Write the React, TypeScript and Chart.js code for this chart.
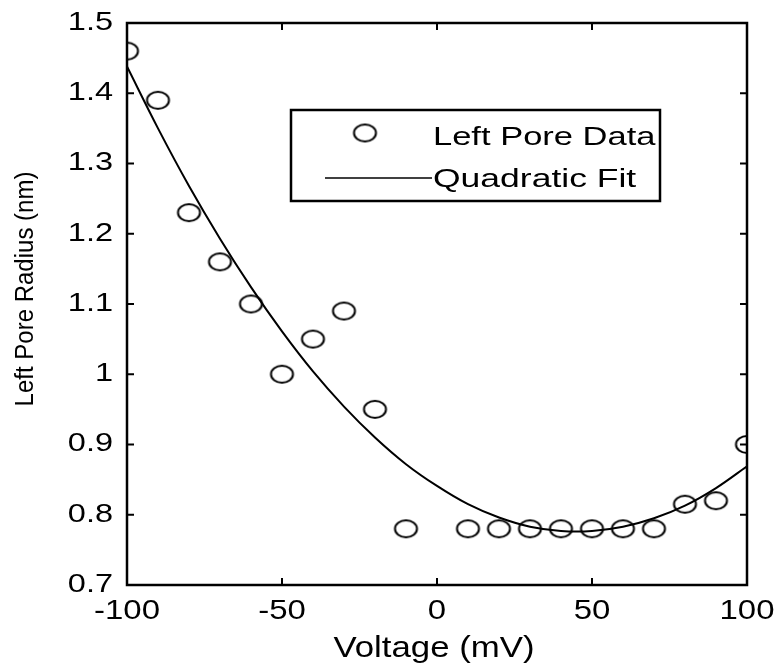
import React, { useEffect, useRef } from "react";
import { Chart, registerables } from "chart.js";

Chart.register(...registerables);

// ---- data ----
const dataVoltages = [-100, -90, -80, -70, -60, -50, -40, -30, -20, -10, 10, 20, 30, 40, 50, 60, 70, 80, 90, 100];
const dataRadii = [1.46, 1.39, 1.23, 1.16, 1.1, 1.0, 1.05, 1.09, 0.95, 0.78, 0.78, 0.78, 0.78, 0.78, 0.78, 0.78, 0.78, 0.815, 0.82, 0.9];

const fitVoltages = [-100, -90, -80, -70, -60, -50, -40, -30, -20, -10, 0, 10, 20, 30, 40, 50, 60, 70, 80, 90, 100];
const fitRadii = [1.438, 1.35, 1.268, 1.193, 1.124, 1.061, 1.004, 0.954, 0.91, 0.872, 0.841, 0.815, 0.796, 0.783, 0.777, 0.777, 0.783, 0.795, 0.813, 0.838, 0.869];

const xTickValues = [-100, -50, 0, 50, 100];
const xTickLabels = ["-100", "-50", "0", "50", "100"];
const yTickValues = [0.7, 0.8, 0.9, 1.0, 1.1, 1.2, 1.3, 1.4, 1.5];
const yTickLabels = ["0.7", "0.8", "0.9", "1", "1.1", "1.2", "1.3", "1.4", "1.5"];

const seriesNames = ["Left Pore Data", "Quadratic Fit"];
const xTitle = "Voltage (mV)";
const yTitle = "Left Pore Radius (nm)";

const FONT = '"Liberation Sans", Arial, sans-serif';

function makeEllipse(): HTMLCanvasElement {
  const c = document.createElement("canvas");
  c.width = 27;
  c.height = 23;
  const g = c.getContext("2d")!;
  g.strokeStyle = "#000";
  g.lineWidth = 2;
  g.beginPath();
  g.ellipse(13.5, 11.5, 11, 8.5, 0, 0, Math.PI * 2);
  g.stroke();
  return c;
}

function stretchText(
  ctx: CanvasRenderingContext2D,
  text: string,
  x: number,
  y: number,
  size: number,
  sx: number,
  align: CanvasTextAlign,
  baseline: CanvasTextBaseline
) {
  ctx.save();
  ctx.translate(x, y);
  ctx.scale(sx, 1);
  ctx.font = `${size}px ${FONT}`;
  ctx.fillStyle = "#000";
  ctx.textAlign = align;
  ctx.textBaseline = baseline;
  ctx.fillText(text, 0, 0);
  ctx.restore();
}

export default function App() {
  const ref = useRef<HTMLCanvasElement | null>(null);

  useEffect(() => {
    if (!ref.current) return;
    const marker = makeEllipse();

    const framePlugin = {
      id: "matlabFrame",
      afterDraw(chart: any) {
        const ctx: CanvasRenderingContext2D = chart.ctx;
        const { left, right, top, bottom } = chart.chartArea;
        const xs = chart.scales.x;
        const ys = chart.scales.y;
        ctx.save();
        ctx.strokeStyle = "#000";
        // box
        ctx.lineWidth = 2.5;
        ctx.strokeRect(left, top, right - left, bottom - top);
        // inward ticks
        ctx.lineWidth = 2;
        const tl = 7;
        ctx.beginPath();
        xTickValues.forEach((v) => {
          const px = xs.getPixelForValue(v);
          ctx.moveTo(px, bottom);
          ctx.lineTo(px, bottom - tl);
          ctx.moveTo(px, top);
          ctx.lineTo(px, top + tl);
        });
        yTickValues.forEach((v) => {
          const py = ys.getPixelForValue(v);
          ctx.moveTo(left, py);
          ctx.lineTo(left + tl, py);
          ctx.moveTo(right, py);
          ctx.lineTo(right - tl, py);
        });
        ctx.stroke();

        // tick labels
        xTickValues.forEach((v, i) => {
          stretchText(ctx, xTickLabels[i], xs.getPixelForValue(v), bottom + 34, 27, 1.22, "center", "alphabetic");
        });
        yTickValues.forEach((v, i) => {
          stretchText(ctx, yTickLabels[i], left - 14, ys.getPixelForValue(v), 25, 1.3, "right", "middle");
        });

        // axis titles
        stretchText(ctx, xTitle, (left + right) / 2 - 3, bottom + 72, 29, 1.2, "center", "alphabetic");
        ctx.save();
        ctx.translate(33, (top + bottom) / 2 - 15);
        ctx.rotate(-Math.PI / 2);
        ctx.scale(1, 1.05);
        ctx.font = `24px ${FONT}`;
        ctx.fillStyle = "#000";
        ctx.textAlign = "center";
        ctx.textBaseline = "alphabetic";
        ctx.fillText(yTitle, 0, 0);
        ctx.restore();

        // legend
        const lx = left + 164;
        const ly = top + 87;
        const lw = 369;
        const lh = 91;
        ctx.fillStyle = "#fff";
        ctx.fillRect(lx, ly, lw, lh);
        ctx.lineWidth = 2.5;
        ctx.strokeRect(lx, ly, lw, lh);
        ctx.drawImage(marker, lx + 74 - marker.width / 2, ly + 23 - marker.height / 2);
        ctx.lineWidth = 1.5;
        ctx.beginPath();
        ctx.moveTo(lx + 34, ly + 68);
        ctx.lineTo(lx + 141, ly + 68);
        ctx.stroke();
        stretchText(ctx, seriesNames[0], lx + 142, ly + 35, 25, 1.38, "left", "alphabetic");
        stretchText(ctx, seriesNames[1], lx + 142, ly + 77, 25, 1.42, "left", "alphabetic");
        ctx.restore();
      },
    };

    const chart = new Chart(ref.current, {
      type: "scatter",
      data: {
        datasets: [
          {
            label: seriesNames[1],
            type: "line",
            data: fitVoltages.map((x, i) => ({ x, y: fitRadii[i] })),
            borderColor: "#000",
            borderWidth: 2,
            pointRadius: 0,
            tension: 0.35,
            fill: false,
            order: 2,
          },
          {
            label: seriesNames[0],
            data: dataVoltages.map((x, i) => ({ x, y: dataRadii[i] })),
            pointStyle: marker as any,
            pointRadius: 11,
            borderColor: "#000",
            backgroundColor: "transparent",
            showLine: false,
            order: 1,
          },
        ],
      },
      options: {
        animation: false,
        responsive: false,
        devicePixelRatio: 1,
        layout: { padding: { left: 127, top: 23, right: 32, bottom: 78 } },
        plugins: { legend: { display: false }, tooltip: { enabled: false } },
        scales: {
          x: { type: "linear", min: -100, max: 100, display: false },
          y: { type: "linear", min: 0.7, max: 1.5, display: false },
        },
      },
      plugins: [framePlugin],
    });
    return () => chart.destroy();
  }, []);

  return (
    <div style={{ position: "fixed", left: 0, top: 0, width: 779, height: 663, background: "#fff" }}>
      <canvas ref={ref} width={779} height={663} style={{ display: "block" }} />
    </div>
  );
}
